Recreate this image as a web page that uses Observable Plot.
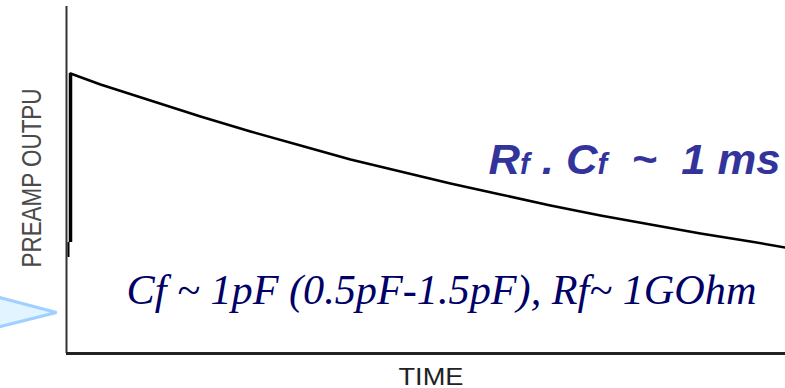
<!DOCTYPE html>
<html>
<head>
<meta charset="utf-8">
<script src="https://cdn.jsdelivr.net/npm/d3@7"></script>
<script src="https://cdn.jsdelivr.net/npm/@observablehq/plot@0.6"></script>
<style>
  html, body { margin: 0; padding: 0; background: white; }
  #chart svg { display: block; }
</style>
</head>
<body>
<div id="chart"></div>
<script>
// Decay curve (arbitrary units)
const time   = [4, 34, 84, 134, 184, 234, 284, 334, 384, 434, 484, 534, 584, 634, 684, 719];
const output = [280, 269, 253, 237, 222, 208, 194, 182, 170, 159, 148, 138, 129, 120, 112, 106];

// Fast rising edge of the pulse
const riseThick = {t: 4, from: 111, to: 280};
const riseThin  = {t: 2, from: 96, to: 111};

// Arrow head on the left edge
const arrowT = [-86, -10, -86, -86];
const arrowV = [61, 41, 22, 61];

// Labels
const yLabel = "PREAMP OUTPU";
const xLabel = "TIME";
const rcLabelParts = [["R", 1], ["f", 0.67], [" . C", 1], ["f", 0.67], ["  ~  1 ms", 1]];
const rcLabel = rcLabelParts.map(d => d[0]).join("");
const cfLabel = "Cf ~ 1pF (0.5pF-1.5pF), Rf~ 1GOhm";

const curve = time.map((t, i) => ({t, v: output[i]}));
const arrow = arrowT.map((t, i) => ({t, v: arrowV[i]}));

const chart = Plot.plot({
  width: 785,
  height: 388,
  marginLeft: 66,
  marginRight: 0,
  marginTop: 6,
  marginBottom: 35,
  x: {domain: [0, 719], axis: null},
  y: {domain: [0, 347], axis: null},
  style: {background: "white"},
  marks: [
    Plot.line(arrow, {x: "t", y: "v", fill: "#e2f4ff", stroke: "#9fd0ff", strokeWidth: 3, strokeLinejoin: "miter"}),
    Plot.ruleX([0], {y1: 0, y2: 347, stroke: "#333", strokeWidth: 2}),
    Plot.ruleY([0], {x1: 0, x2: 719, stroke: "#222", strokeWidth: 3}),
    Plot.ruleX([riseThin], {x: "t", y1: "from", y2: "to", stroke: "#000", strokeWidth: 2}),
    Plot.ruleX([riseThick], {x: "t", y1: "from", y2: "to", stroke: "#000", strokeWidth: 3.5}),
    Plot.line(curve, {x: "t", y: "v", stroke: "#000", strokeWidth: 2.5}),
    Plot.text([yLabel], {x: -34, y: 175.5, text: d => d, rotate: -90, fontSize: 28, fill: "#4a4a4a",
      fontFamily: "Liberation Sans, Arial, sans-serif"}),
    Plot.text([xLabel], {x: 364.5, y: -31, text: d => d, lineAnchor: "bottom", fontSize: 23, fill: "#222",
      fontFamily: "Liberation Sans, Arial, sans-serif"}),
    Plot.text([rcLabel], {x: 714, y: 180, text: d => d, textAnchor: "end", lineAnchor: "bottom", fontSize: 43,
      fontWeight: "bold", fontStyle: "italic", fill: "#33339c", fontFamily: "Liberation Sans, Arial, sans-serif"}),
    Plot.text([cfLabel], {x: 60, y: 50, text: d => d, textAnchor: "start", lineAnchor: "bottom", fontSize: 42,
      fontStyle: "italic", fill: "#000066", fontFamily: "Liberation Serif, Times New Roman, serif"})
  ]
});

// Fit text widths to the reference and build the small "f" letters
const lengths = {};
lengths[yLabel] = 179;
lengths[xLabel] = 65;
lengths[rcLabel] = 292;
lengths[cfLabel] = 630;
chart.querySelectorAll("text").forEach(el => {
  const s = el.textContent;
  if (s === rcLabel) {
    el.textContent = "";
    el.setAttribute("style", "white-space: pre");
    rcLabelParts.forEach(([str, k]) => {
      const ts = document.createElementNS("http://www.w3.org/2000/svg", "tspan");
      ts.textContent = str;
      if (k !== 1) ts.setAttribute("font-size", (43 * k).toFixed(1));
      el.appendChild(ts);
    });
  }
  if (lengths[s] !== undefined) {
    el.setAttribute("textLength", lengths[s]);
    el.setAttribute("lengthAdjust", "spacingAndGlyphs");
  }
});

document.getElementById("chart").appendChild(chart);
</script>
</body>
</html>
